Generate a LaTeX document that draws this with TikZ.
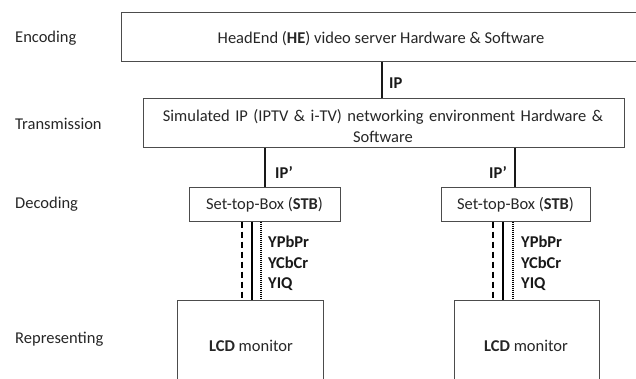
\documentclass[tikz,border=0pt]{standalone}
\usepackage{fontspec}
\setmainfont{Carlito}
\begin{document}
\begin{tikzpicture}[x=1pt,y=-1pt,
  box/.style={draw=black!70,line width=1pt,inner sep=0pt,text=black!85,font=\fontsize{16.5}{21}\selectfont,align=center},
  boxtxt/.style={inner sep=0pt,text=black!85,font=\fontsize{16.5}{21}\selectfont,align=center},
  lab/.style={anchor=west,inner sep=0pt,text=black!85,font=\fontsize{16.5}{20}\selectfont},
  sig/.style={inner sep=0pt,text=black!90,font=\fontsize{16.5}{20}\selectfont\bfseries},
  conn/.style={draw=black!90,line width=1.6pt}]
\useasboundingbox (0,0) rectangle (636,379);
% row labels
\node[lab] (enc) at (15,38) {Encoding};
\node[lab] (tra) at (15,124) {Transmission};
\node[lab] (dec) at (15,204) {Decoding};
\node[lab] (rep) at (15,339) {Representing};
% boxes
\node[box,minimum width=521pt,minimum height=49pt] (he) at (381.5,37.5) {};
\node[boxtxt] (hetxt) at (381,39) {HeadEnd (\textbf{HE}) video server Hardware \& Software};
\node[box,minimum width=481pt,minimum height=49pt] (net) at (383.5,123.5) {};
\node[boxtxt,text width=470pt] (nettxt) at (383,126) {Simulated IP (IPTV \& i-TV) networking environment Hardware \&\\Software};
\node[box,minimum width=151pt,minimum height=33pt] (stbl) at (264.5,204.5) {Set-top-Box (\textbf{STB})};
\node[box,minimum width=149pt,minimum height=33pt] (stbr) at (515.5,204.5) {Set-top-Box (\textbf{STB})};
\node[box,minimum width=146pt,minimum height=90pt] (lcdl) at (250,345) {};
\node[box,minimum width=145pt,minimum height=90pt] (lcdr) at (526.5,345) {};
\node[boxtxt] (lcdltxt) at (251,346) {\textbf{LCD} monitor};
\node[boxtxt] (lcdrtxt) at (526,346) {\textbf{LCD} monitor};
% IP links
\draw[conn] (he.south -| 382,0) -- (net.north -| 382,0);
\node[sig,anchor=west] (iplab) at (389,83) {IP};
\draw[conn] (net.south -| 265,0) -- (stbl.north -| 265,0);
\node[sig,anchor=west] (ipl) at (275,172) {IP’};
\draw[conn] (net.south -| 515,0) -- (stbr.north -| 515,0);
\node[sig,anchor=west] (ipr) at (489,172) {IP’};
% STB to LCD links
\draw[line width=1.4pt,dash pattern=on 6pt off 4pt] (stbl.south -| 242,0) -- (lcdl.north -| 242,0);
\draw[line width=1.8pt] (stbl.south -| 252,0) -- (lcdl.north -| 252,0);
\draw[line width=1.1pt,dash pattern=on 1pt off 1pt] (stbl.south -| 261,0) -- (lcdl.north -| 261,0);
\draw[line width=1.4pt,dash pattern=on 6pt off 4pt] (stbr.south -| 493,0) -- (lcdr.north -| 493,0);
\draw[line width=1.8pt] (stbr.south -| 503,0) -- (lcdr.north -| 503,0);
\draw[line width=1.1pt,dash pattern=on 1pt off 1pt] (stbr.south -| 513,0) -- (lcdr.north -| 513,0);
\node[sig,anchor=west] (yl1) at (268,242) {YPbPr};
\node[sig,anchor=west] (yl2) at (268,263) {YCbCr};
\node[sig,anchor=west] (yl3) at (268,284) {YIQ};
\node[sig,anchor=west] (yr1) at (521,242) {YPbPr};
\node[sig,anchor=west] (yr2) at (521,263) {YCbCr};
\node[sig,anchor=west] (yr3) at (521,284) {YIQ};
\end{tikzpicture}
\end{document}
